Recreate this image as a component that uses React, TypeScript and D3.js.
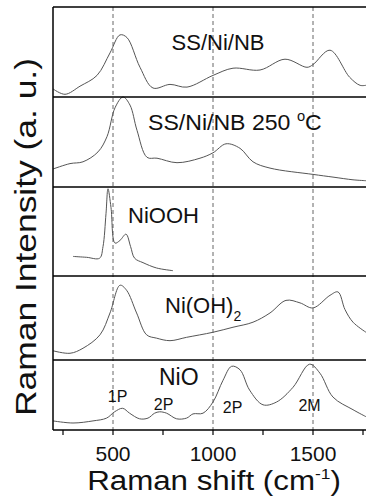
import React from "react";
import * as d3 from "d3";

// Raman shift (cm-1) / intensity (a.u., 0-100 within each panel)
const nbX = [200, 260, 335, 420, 485, 535, 570, 635, 700, 785, 870, 1000, 1100, 1235, 1360, 1470, 1500, 1585, 1683, 1735, 1765];
const nbY = [9, 3, 12, 24, 49, 69, 66, 33, 10, 14, 11, 24, 32, 30, 42, 33, 36, 52, 22, 13, 13];

const nb250X = [200, 285, 350, 425, 470, 510, 550, 585, 620, 670, 720, 820, 935, 1000, 1065, 1135, 1200, 1285, 1500, 1600, 1700, 1765];
const nb250Y = [20, 26, 28, 39, 56, 88, 100, 91, 63, 33, 32, 27, 32, 38, 48, 43, 28, 21, 14, 11, 8, 7];

const nioohX = [300, 368, 433, 450, 465, 475, 490, 510, 535, 565, 588, 608, 650, 718, 800];
const nioohY = [22, 21, 20, 33, 70, 98, 77, 37, 40, 47, 33, 20, 15, 9, 6];

const nioh2X = [200, 285, 350, 435, 485, 535, 568, 618, 668, 718, 785, 868, 1000, 1100, 1200, 1285, 1365, 1435, 1500, 1585, 1625, 1660, 1700, 1765];
const nioh2Y = [11, 8, 14, 30, 56, 89, 83, 56, 30, 26, 23, 27, 33, 39, 45, 56, 71, 68, 62, 77, 81, 60, 45, 33];

const nioX = [200, 300, 400, 468, 508, 548, 583, 633, 675, 708, 733, 768, 818, 868, 900, 950, 1000, 1050, 1093, 1135, 1183, 1250, 1318, 1400, 1483, 1535, 1600, 1700, 1765];
const nioY = [13, 10, 13, 17, 26, 31, 24, 16, 17, 24, 26, 24, 16, 17, 23, 24, 40, 71, 91, 86, 57, 36, 40, 61, 94, 81, 47, 29, 19];

const majorTicks = [500, 1000, 1500];
const minorTicks = [250, 750, 1250, 1750];
const peakLabels = ["1P", "2P", "2P", "2M"];
const peakPos = [523, 753, 1098, 1483];

const W = 366;
const H = 504;
const left = 53;
const bottom = 430;
const panelEdges = [7, 97, 187, 276, 360, 430];
const font = "'Liberation Sans', Arial, sans-serif";
const curveColor = "#555";

const series = [
  { xs: nbX, ys: nbY },
  { xs: nb250X, ys: nb250Y },
  { xs: nioohX, ys: nioohY },
  { xs: nioh2X, ys: nioh2Y },
  { xs: nioX, ys: nioY },
];

export default function App() {
  const x = d3.scaleLinear().domain([200, 1800]).range([left, left + 320]);

  const paths = series.map((s, i) => {
    const y = d3.scaleLinear().domain([0, 100]).range([panelEdges[i + 1], panelEdges[i]]);
    const line = d3
      .line<number>()
      .x((d, j) => x(s.xs[j]))
      .y((d) => y(d))
      .curve(d3.curveCatmullRom.alpha(0.5));
    return line(s.ys) as string;
  });

  return (
    <svg
      width={W}
      height={H}
      style={{ position: "absolute", left: 0, top: 0, background: "#fff" }}
      fontFamily={font}
    >
      {/* dashed guide lines */}
      {majorTicks.map((t) => (
        <line
          key={"g" + t}
          x1={x(t)}
          x2={x(t)}
          y1={panelEdges[0]}
          y2={bottom}
          stroke="#666"
          strokeWidth={1}
          strokeDasharray="4,3"
        />
      ))}

      {paths.map((d, i) => (
        <path key={i} d={d} fill="none" stroke={curveColor} strokeWidth={1} />
      ))}

      {/* frame and panel separators */}
      {panelEdges.map((e) => (
        <line key={"p" + e} x1={left} x2={W} y1={e} y2={e} stroke="#000" strokeWidth={1.5} />
      ))}
      <line x1={left} x2={left} y1={panelEdges[0]} y2={bottom} stroke="#000" strokeWidth={1.5} />

      {/* x ticks */}
      {majorTicks.concat(minorTicks).map((t) => (
        <line key={"t" + t} x1={x(t)} x2={x(t)} y1={bottom} y2={bottom + 5} stroke="#000" strokeWidth={1.2} />
      ))}
      {majorTicks.map((t) => (
        <text key={"l" + t} x={x(t)} y={461} fontSize={21} textAnchor="middle" fill="#111">
          {t}
        </text>
      ))}

      {/* axis titles */}
      <text transform="translate(214,490) scale(1.16,1)" fontSize={27} textAnchor="middle" fill="#111">
        Raman shift (cm
        <tspan dy={-11} fontSize={15}>-1</tspan>
        <tspan dy={11}>)</tspan>
      </text>
      <text
        transform="translate(36,237) rotate(-90) scale(1.18,1)"
        fontSize={30}
        textAnchor="middle"
        fill="#111"
      >
        Raman Intensity (a. u.)
      </text>

      {/* panel labels */}
      <text x={218} y={50} fontSize={22} textAnchor="middle" fill="#111">SS/Ni/NB</text>
      <text transform="translate(148,130) scale(1.05,1)" fontSize={22} fill="#111">
        SS/Ni/NB 250 <tspan dy={-9} fontSize={14}>o</tspan>
        <tspan dy={9}>C</tspan>
      </text>
      <text x={128} y={223} fontSize={22} fill="#111">NiOOH</text>
      <text x={165} y={313} fontSize={22} fill="#111">
        Ni(OH)<tspan dy={8} fontSize={14}>2</tspan>
      </text>
      <text x={159} y={385} fontSize={23} fill="#111">NiO</text>
      {peakLabels.map((p, i) => (
        <text
          key={"k" + i}
          x={x(peakPos[i])}
          y={[402, 410, 413, 411][i]}
          fontSize={16}
          textAnchor="middle"
          fill="#111"
        >
          {p}
        </text>
      ))}
    </svg>
  );
}
